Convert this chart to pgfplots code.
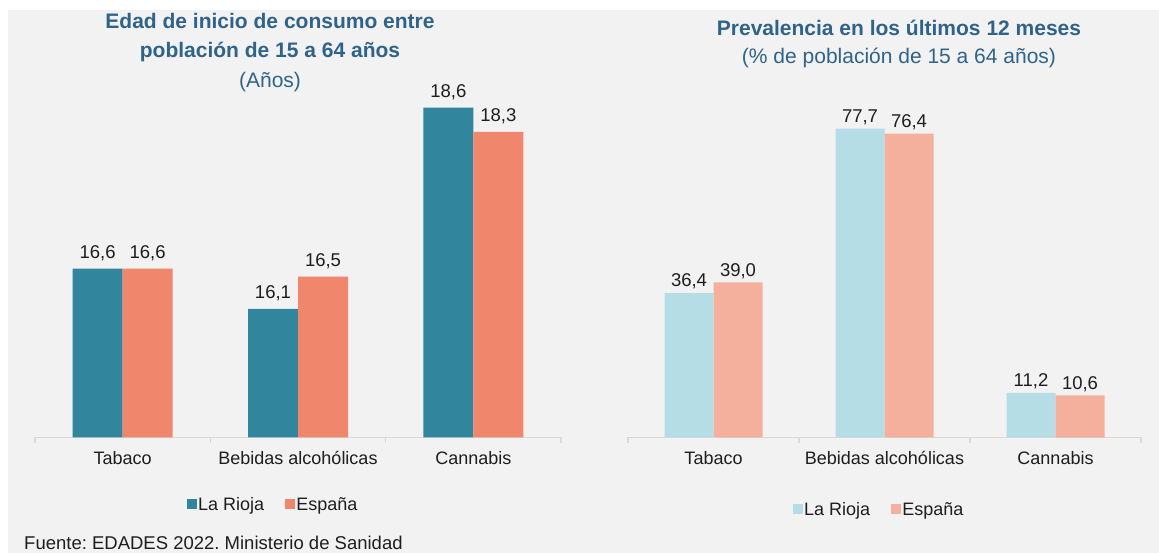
\documentclass[border=0pt]{standalone}
\usepackage{fontspec}
\setmainfont{Liberation Sans}
\usepackage{pgfplots}
\pgfplotsset{compat=1.18}
\frenchspacing
\definecolor{bggray}{RGB}{242,242,242}
\definecolor{titleblue}{RGB}{47,99,137}
\definecolor{teal1}{RGB}{49,133,156}
\definecolor{salmon1}{RGB}{240,134,108}
\definecolor{lblue}{RGB}{180,221,230}
\definecolor{lsalmon}{RGB}{245,176,157}
\definecolor{axgray}{RGB}{217,217,217}
\definecolor{txt}{RGB}{30,30,30}
\pgfplotsset{
  mybar/.style={
    scale only axis,
    ybar=0pt,
    clip=false,
    xmin=-0.5, xmax=2.5,
    xtick={0,1,2},
    xticklabels={Tabaco,Bebidas alcohólicas,Cannabis},
    major tick length=0pt,
    major x tick style={draw=none},
    minor xtick={-0.5,0.5,1.5,2.5},
    minor tick length=6pt,
    tick align=outside,
    minor x tick style={draw=axgray, line width=1.3pt},
    axis x line*=bottom,
    x axis line style={-, draw=axgray, line width=1.3pt},
    axis y line=none,
    xticklabel style={font=\fontsize{18}{21}\selectfont, text=txt, anchor=base, yshift=-27.5pt},
    /pgf/number format/assume math mode=true,
    /pgf/number format/fixed,
    /pgf/number format/fixed zerofill,
    /pgf/number format/precision=1,
    /pgf/number format/use comma,
    nodes near coords,
    every node near coord/.append style={font=\fontsize{18.5}{21}\selectfont, text=txt, anchor=base, inner sep=0pt},
    legend columns=2,
    legend style={draw=none, fill=none, font=\fontsize{18}{21}\selectfont, text=txt,
      nodes={inner sep=1.6pt},
      /tikz/every even column/.append style={column sep=19pt}},
    legend image code/.code={\fill[##1] (0pt,-5pt) rectangle (10pt,5pt);},
  }
}
\begin{document}
\begin{tikzpicture}[x=1pt,y=1pt]
\fill[white] (0,0) rectangle (1159,553);
\fill[bggray] (8,0) rectangle (1159,543);
\begin{axis}[mybar,
  at={(35pt,115.5pt)}, anchor=south west,
  width=526pt, height=362pt,
  ymin=14.5, ymax=19,
  bar width=50pt,
  every node near coord/.append style={yshift=10.5pt},
  legend style={at={(0.452,-0.185)}, anchor=center},
]
\addplot[fill=teal1, draw=none] coordinates {(0,16.6) (1,16.1) (2,18.6)};
\addplot[fill=salmon1, draw=none] coordinates {(0,16.6) (1,16.5) (2,18.3)};
\legend{La Rioja,España}
\end{axis}
\begin{axis}[mybar,
  at={(628pt,115.5pt)}, anchor=south west,
  width=513pt, height=338pt,
  ymin=0, ymax=85,
  bar width=49pt,
  every node near coord/.append style={yshift=6pt},
  legend style={at={(0.489,-0.213)}, anchor=center},
]
\addplot[fill=lblue, draw=none] coordinates {(0,36.4) (1,77.7) (2,11.2)};
\addplot[fill=lsalmon, draw=none] coordinates {(0,39.0) (1,76.4) (2,10.6)};
\legend{La Rioja,España}
\end{axis}
\node[text=titleblue, font=\fontsize{21}{30}\selectfont\bfseries] at (270,532) {Edad de inicio de consumo entre};
\node[text=titleblue, font=\fontsize{21}{30}\selectfont\bfseries] at (270,501) {población de 15 a 64 años};
\node[text=titleblue, font=\fontsize{21}{30}\selectfont] at (270,471) {(Años)};
\node[text=titleblue, font=\fontsize{21}{30}\selectfont\bfseries] at (899,525) {Prevalencia en los últimos 12 meses};
\node[text=titleblue, font=\fontsize{21}{30}\selectfont] at (899,495) {(\% de población de 15 a 64 años)};
\node[text=txt, font=\fontsize{18.5}{21}\selectfont, anchor=west, inner sep=0pt] at (24,10) {Fuente: EDADES 2022. Ministerio de Sanidad};
\end{tikzpicture}
\end{document}
